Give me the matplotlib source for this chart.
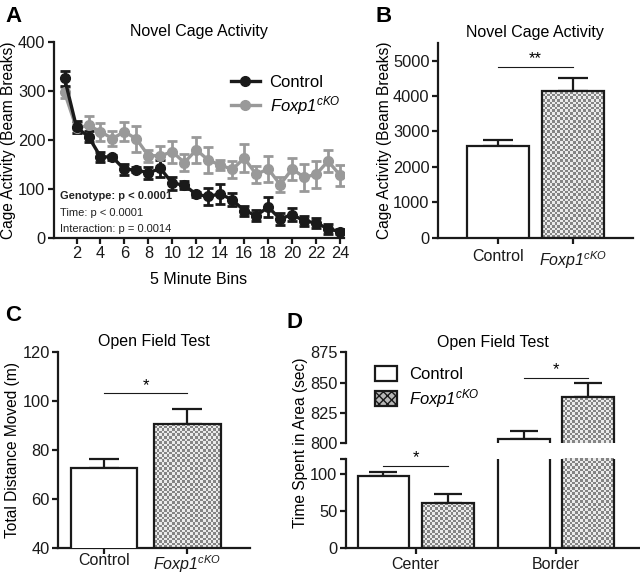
import numpy as np
import matplotlib
matplotlib.use("Agg")
import matplotlib.pyplot as plt
from matplotlib.lines import Line2D
from matplotlib.patches import Patch
from matplotlib.transforms import blended_transform_factory

plt.rcParams['font.family'] = ['Liberation Sans', 'DejaVu Sans']
plt.rcParams['mathtext.fontset'] = 'custom'
plt.rcParams['mathtext.rm'] = 'Liberation Sans'
plt.rcParams['mathtext.it'] = 'Liberation Sans:italic'

# panel A: novel cage activity per 5 minute bin
bins = list(range(1, 25))
ctrl_mean = [326, 226, 207, 166, 165, 140, 139, 133, 142, 112, 108, 89, 85, 90, 78,
             56, 46, 63, 39, 48, 35, 31, 19, 13]
ctrl_sem = [15, 12, 12, 10, 5, 12, 5, 12, 17, 13, 8, 5, 17, 20, 13,
            10, 12, 20, 13, 14, 10, 10, 10, 5]
cko_mean = [297, 224, 230, 217, 203, 217, 202, 168, 168, 176, 154, 180, 159, 149, 140,
            163, 130, 141, 109, 141, 124, 130, 157, 128]
cko_sem = [12, 10, 20, 18, 15, 20, 27, 12, 20, 22, 18, 27, 27, 10, 18,
           28, 17, 27, 15, 23, 28, 28, 22, 22]

# panel B: total beam breaks
groups = ['Control', 'Foxp1$^{cKO}$']
total_mean = [2600, 4130]
total_sem = [170, 370]

# panel C: open field distance
dist_mean = [72.5, 90.6]
dist_sem = [3.7, 6.0]

# panel D: time in area
areas = ['Center', 'Border']
area_ctrl = [97, 803]
area_ctrl_sem = [6, 7]
area_cko = [61.5, 838]
area_cko_sem = [11.5, 11.5]

BLACK = '#1a1a1a'
GRAY = '#999999'
LW = 1.6
TPAD = 4
fig = plt.figure(figsize=(6.4, 5.75), dpi=100)


def style(ax):
    for s in ['top', 'right']:
        ax.spines[s].set_visible(False)
    for s in ['left', 'bottom']:
        ax.spines[s].set_linewidth(LW)
        ax.spines[s].set_color(BLACK)
    ax.tick_params(width=LW, length=4.5, labelsize=11.8, colors=BLACK, pad=1.5)


def ylab(ax, text, xpos):
    ax.set_ylabel(text, fontsize=11.2)
    ax.yaxis.label.set_va('center')
    ax.yaxis.set_label_coords(xpos, 0.5)


def cat_labels(ax, xs, labels, y=-0.06):
    # category labels on a common baseline (superscript shouldn't push them down)
    ax.set_xticks(xs)
    ax.set_xticklabels([''] * len(xs))
    tr = blended_transform_factory(ax.transData, ax.transAxes)
    for x, lab in zip(xs, labels):
        t = ax.text(x, y, lab, transform=tr, ha='center', va='top',
                    fontsize=11.5, color=BLACK)
        if '$' in lab:
            t.set_fontstyle('italic')


def checker(ax, patch, cell=2.6):
    # fill a bar with a small checkerboard, clipped to the bar
    fig.canvas.draw()
    bb = patch.get_bbox()
    x0, x1, y0, y1 = bb.x0, bb.x1, bb.y0, bb.y1
    lo, hi = ax.get_ylim()
    yb0, yb1 = max(y0, lo), min(y1, hi)
    p0 = ax.transData.transform((x0, yb0))
    p1 = ax.transData.transform((x1, yb1))
    nx = max(1, int(round(abs(p1[0] - p0[0]) / cell)))
    ny = max(1, int(round(abs(p1[1] - p0[1]) / cell)))
    ii, jj = np.meshgrid(np.arange(nx), np.arange(ny))
    img = np.where((ii + jj) % 2 == 0, 0.52, 0.92)
    xl = ax.get_xlim()
    im = ax.imshow(img, extent=(x0, x1, yb0, yb1), cmap='gray', vmin=0, vmax=1,
                   interpolation='nearest', aspect='auto', origin='lower', zorder=2)
    im.set_clip_path(patch)
    ax.set_xlim(xl)
    ax.set_ylim(lo, hi)


def bars(ax, x, means, sems, width):
    # white bar for control, checkered bar for cKO, upward sem only
    ax.bar(x[0], means[0], width, color='white', edgecolor=BLACK, linewidth=LW, zorder=3)
    b = ax.bar(x[1], means[1], width, color='none', edgecolor=BLACK, linewidth=LW, zorder=3)
    ax.errorbar(x, means, yerr=[[0, 0], sems], fmt='none', ecolor=BLACK,
                elinewidth=LW, capsize=11, capthick=LW, zorder=1)
    return b[0]


# ---- A ----
axA = fig.add_axes([0.084, 0.586, 0.453, 0.341])
style(axA)
axA.errorbar(bins, cko_mean, yerr=cko_sem, color=GRAY, marker='o', markersize=7,
             linewidth=2.4, elinewidth=2, capsize=3.8, capthick=2)
axA.errorbar(bins, ctrl_mean, yerr=ctrl_sem, color=BLACK, marker='o', markersize=7,
             linewidth=2.4, elinewidth=2, capsize=3.8, capthick=2)
axA.set_xlim(0.1, 24.3)
axA.set_ylim(0, 400)
axA.set_xticks(range(2, 25, 2))
axA.set_yticks(range(0, 401, 100))
axA.set_xlabel('5 Minute Bins', fontsize=11.5, labelpad=8)
ylab(axA, 'Cage Activity (Beam Breaks)', -0.155)
axA.set_title('Novel Cage Activity', fontsize=11.5, pad=TPAD)
hA = [Line2D([], [], color=BLACK, marker='o', markersize=7, linewidth=2.4),
      Line2D([], [], color=GRAY, marker='o', markersize=7, linewidth=2.4)]
leg = axA.legend(hA, ['Control', 'Foxp1$^{cKO}$'], loc='upper right',
                 bbox_to_anchor=(1.04, 0.91), frameon=False, fontsize=12,
                 handlelength=1.7, handletextpad=0.6, labelspacing=0.25)
leg.get_texts()[1].set_fontstyle('italic')
axA.text(0.022, 0.2, 'Genotype: p < 0.0001', transform=axA.transAxes,
         fontsize=8, fontweight='bold', color='#222222', zorder=5)
axA.text(0.022, 0.115, 'Time: p < 0.0001', transform=axA.transAxes,
         fontsize=8, color='#222222', zorder=5)
axA.text(0.022, 0.03, 'Interaction: p = 0.0014', transform=axA.transAxes,
         fontsize=8, color='#222222', zorder=5)

# ---- B ----
axB = fig.add_axes([0.684, 0.5866, 0.305, 0.339])
style(axB)
pB = bars(axB, [0, 1], total_mean, total_sem, 0.82)
axB.set_xlim(-0.8, 1.8)
axB.set_ylim(0, 5500)
axB.set_yticks(range(0, 5001, 1000))
cat_labels(axB, [0, 1], groups)
ylab(axB, 'Cage Activity (Beam Breaks)', -0.275)
axB.set_title('Novel Cage Activity', fontsize=11.5, pad=TPAD)
axB.plot([0, 1], [4820, 4820], color=BLACK, linewidth=0.8)
axB.text(0.5, 4840, '**', ha='center', va='bottom', fontsize=12)

# ---- C ----
axC = fig.add_axes([0.0906, 0.047, 0.3, 0.341])
style(axC)
pC = bars(axC, [0, 1], dist_mean, dist_sem, 0.8)
axC.set_xlim(-0.55, 1.75)
axC.set_ylim(40, 120)
axC.set_yticks(range(40, 121, 20))
cat_labels(axC, [0, 1], groups, y=-0.028)
ylab(axC, 'Total Distance Moved (m)', -0.235)
axC.set_title('Open Field Test', fontsize=11.5, pad=TPAD)
axC.plot([0, 1], [103.1, 103.1], color=BLACK, linewidth=0.8)
axC.text(0.5, 103.3, '*', ha='center', va='bottom', fontsize=12)

# ---- D (broken axis) ----
axDl = fig.add_axes([0.540, 0.0464, 0.46, 0.155])
axDu = fig.add_axes([0.540, 0.230, 0.46, 0.157])
xc = np.array([0, 1.0])
off = 0.23
pD = []
for ax in (axDl, axDu):
    style(ax)
    ax.bar(xc - off, area_ctrl, 0.37, color='white', edgecolor=BLACK, linewidth=LW, zorder=3)
    bb = ax.bar(xc + off, area_cko, 0.37, color='none', edgecolor=BLACK, linewidth=LW, zorder=3)
    ax.errorbar(xc - off, area_ctrl, yerr=[[0, 0], area_ctrl_sem], fmt='none', ecolor=BLACK,
                elinewidth=LW, capsize=10, capthick=LW, zorder=1)
    ax.errorbar(xc + off, area_cko, yerr=[[0, 0], area_cko_sem], fmt='none', ecolor=BLACK,
                elinewidth=LW, capsize=10, capthick=LW, zorder=1)
    ax.set_xlim(-0.5, 1.6)
    pD.append(bb)
axDl.set_ylim(0, 120)
axDl.set_yticks([0, 50, 100, 120])
axDl.set_yticklabels(['0', '50', '100', ''])
cat_labels(axDl, xc, areas, y=-0.1)
axDu.set_ylim(800, 875)
axDu.set_yticks([800, 825, 850, 875])
axDu.set_xticks([])
axDu.spines['bottom'].set_visible(False)
axDu.set_title('Open Field Test', fontsize=11.5, pad=TPAD)
axDl.plot([-off, off], [111.5, 111.5], color=BLACK, linewidth=0.8)
axDl.text(0, 111.5, '*', ha='center', va='bottom', fontsize=12)
axDu.plot([1 - off, 1 + off], [854, 854], color=BLACK, linewidth=0.8)
axDu.text(1, 854.3, '*', ha='center', va='bottom', fontsize=12)
lh = [Patch(facecolor='white', edgecolor=BLACK, linewidth=LW),
      Patch(facecolor='#b8b8b8', edgecolor=BLACK, hatch='xxxx', linewidth=LW)]
legD = axDu.legend(lh, ['Control', 'Foxp1$^{cKO}$'], loc='upper left',
                   bbox_to_anchor=(0.05, 1.02), frameon=False, fontsize=12,
                   handlelength=1.3, handleheight=1.0, handletextpad=0.7, labelspacing=0.3)
legD.get_texts()[1].set_fontstyle('italic')
fig.text(0.469, 0.23, 'Time Spent in Area (sec)', rotation=90, ha='center', va='center',
         fontsize=11.2)

# checkerboard fills
checker(axB, pB)
checker(axC, pC)
for ax, bb in zip((axDl, axDu), pD):
    for p in bb:
        checker(ax, p)

# panel letters
for x, y, s in [(0.008, 0.972, 'A'), (0.586, 0.972, 'B'), (0.008, 0.452, 'C'), (0.448, 0.44, 'D')]:
    fig.text(x, y, s, fontsize=16, fontweight='bold', va='center')

fig.savefig('out.png', dpi=100)
